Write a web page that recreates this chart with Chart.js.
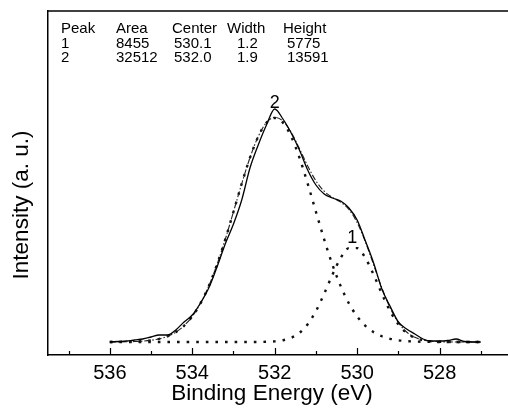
<!DOCTYPE html>
<html>
<head>
<meta charset="utf-8">
<script src="https://cdn.jsdelivr.net/npm/chart.js@4.4.0/dist/chart.umd.min.js"></script>
<style>
html, body { margin: 0; padding: 0; background: #fff; overflow: hidden; }
canvas { display: block; }
</style>
</head>
<body>
<canvas id="graficaXPS" width="508" height="414" style="width:508px;height:414px"></canvas>
<script>
// binding energy (eV), one point every 0.2 eV
var energy = [536.0, 535.8, 535.6, 535.4, 535.2, 535.0, 534.8, 534.6, 534.4, 534.2,
  534.0, 533.8, 533.6, 533.4, 533.2, 533.0, 532.8, 532.6, 532.4, 532.2,
  532.0, 531.8, 531.6, 531.4, 531.2, 531.0, 530.8, 530.6, 530.4, 530.2,
  530.0, 529.8, 529.6, 529.4, 529.2, 529.0, 528.8, 528.6, 528.4, 528.2,
  528.0, 527.8, 527.6, 527.4, 527.2, 527.0];

// measured spectrum (solid)
var measured = [789, 819, 849, 910, 971, 1092, 1213, 1213, 1517, 2002,
  2427, 3155, 4065, 5339, 6734, 7948, 9404, 11345, 12741, 13954,
  14925, 14318, 13469, 12437, 11224, 10314, 9768, 9525, 9343, 8918,
  8190, 6916, 5582, 4000, 2950, 2002, 1577, 1274, 971, 849,
  849, 880, 971, 819, 789, 789];

// fit envelope (dash-dot)
var fitSum = [792, 795, 802, 816, 842, 893, 983, 1137, 1387, 1774,
  2342, 3133, 4180, 5483, 7012, 8691, 10393, 11971, 13256, 14102,
  14419, 14193, 13506, 12522, 11469, 10566, 9936, 9564, 9276, 8828,
  8037, 6870, 5468, 4061, 2858, 1969, 1394, 1070, 906, 833,
  805, 795, 791, 790, 790, 790];

// fitted components (dotted)
var peak1 = [790, 790, 790, 790, 790, 790, 790, 790, 790, 790,
  790, 790, 790, 790, 790, 790, 790, 791, 794, 803,
  828, 894, 1044, 1342, 1866, 2665, 3714, 4871, 5886, 6485,
  6485, 5886, 4871, 3714, 2665, 1866, 1342, 1044, 894, 828,
  803, 794, 791, 790, 790, 790];
var peak2 = [792, 795, 802, 816, 842, 893, 983, 1137, 1387, 1774,
  2342, 3133, 4180, 5483, 7012, 8691, 10393, 11970, 13252, 14089,
  14381, 14089, 13252, 11970, 10393, 8691, 7012, 5483, 4180, 3133,
  2342, 1774, 1387, 1137, 983, 893, 842, 816, 802, 795,
  792, 791, 790, 790, 790, 790];

var xTicks = [536, 534, 532, 530, 528];
var xMinorTicks = [537, 535, 533, 531, 529, 527];

var xTitle = 'Binding Energy (eV)';
var yTitle = 'Intensity (a. u.)';

// fit table
var tableHeader = ['Peak', 'Area', 'Center', 'Width', 'Height'];
var peakNo = ['1', '2'];
var peakArea = ['8455', '32512'];
var peakCenter = ['530.1', '532.0'];
var peakWidth = ['1.2', '1.9'];
var peakHeight = ['5775', '13591'];

// peak number labels: [text, energy, intensity]
var peakLabels = [['2', 532.0, 14985], ['1', 530.12, 6795]];

var FONT = 'Liberation Sans, Arial, Helvetica, sans-serif';

function puntos(arr){
  return energy.map(function(e, i){ return {x: e, y: arr[i]}; });
}

var extras = {
  id: 'extras',
  afterDraw: function(chart){
    var c = chart.ctx, a = chart.chartArea;
    var xs = chart.scales.x, ys = chart.scales.y;
    c.save();
    c.beginPath();
    c.strokeStyle = '#000';
    c.lineWidth = 1.5;
    c.moveTo(a.left, a.top);
    c.lineTo(chart.width, a.top);
    c.stroke();
    // inward ticks
    c.lineWidth = 1.2;
    xTicks.forEach(function(v){
      var px = Math.round(xs.getPixelForValue(v)) + 0.5;
      c.beginPath(); c.moveTo(px, a.bottom); c.lineTo(px, a.bottom - 7); c.stroke();
    });
    xMinorTicks.forEach(function(v){
      var px = Math.round(xs.getPixelForValue(v)) + 0.5;
      c.beginPath(); c.moveTo(px, a.bottom); c.lineTo(px, a.bottom - 4); c.stroke();
    });
    c.beginPath();
    c.fillStyle = '#000';
    // axis titles
    c.font = '22.5px ' + FONT;
    c.textAlign = 'center';
    c.textBaseline = 'alphabetic';
    c.fillText(xTitle, 272, 400);
    c.save();
    c.translate(27.5, 205);
    c.rotate(-Math.PI / 2);
    c.fillText(yTitle, 0, 0);
    c.restore();
    // table
    c.font = '15px ' + FONT;
    c.textAlign = 'left';
    var hx = [61, 116, 172, 227, 283];
    var vx = [61, 116, 174, 237, 287];
    var rowY = [33.3, 47.6, 61.8];
    tableHeader.forEach(function(t, j){ c.fillText(t, hx[j], rowY[0]); });
    for (var r = 0; r < peakNo.length; r++){
      var fila = [peakNo[r], peakArea[r], peakCenter[r], peakWidth[r], peakHeight[r]];
      fila.forEach(function(t, j){ c.fillText(t, vx[j], rowY[r + 1]); });
    }
    // peak labels
    c.font = '18px ' + FONT;
    c.textAlign = 'center';
    peakLabels.forEach(function(p){
      c.fillText(p[0], xs.getPixelForValue(p[1]), ys.getPixelForValue(p[2]));
    });
    c.restore();
  }
};

var dotStyle = {borderColor: '#111', borderWidth: 2.4, borderDash: [2.6, 7]};

var grafica = new Chart(document.getElementById('graficaXPS'), {
  type: 'line',
  data: {
    datasets: [
      {label: 'measured', data: puntos(measured), borderColor: '#000', borderWidth: 1.3},
      {label: 'fit', data: puntos(fitSum), borderColor: '#222', borderWidth: 1.1, borderDash: [6, 2, 1.5, 2]},
      Object.assign({label: 'peak 1', data: puntos(peak1)}, dotStyle),
      Object.assign({label: 'peak 2', data: puntos(peak2)}, dotStyle)
    ]
  },
  options: {
    responsive: false,
    animation: false,
    devicePixelRatio: 1,
    // plot area runs past the right edge of the canvas: the reference has no right frame
    layout: {padding: {top: 11, right: -20, bottom: 0, left: 0}},
    elements: {
      point: {radius: 0},
      line: {cubicInterpolationMode: 'monotone'}
    },
    plugins: {legend: {display: false}, tooltip: {enabled: false}},
    scales: {
      x: {
        type: 'linear',
        reverse: true,
        min: 526.34,
        max: 537.5,
        grid: {display: false, drawTicks: false},
        border: {display: true, color: '#000', width: 1.5},
        ticks: {font: {size: 20, family: FONT}, color: '#000', padding: 6, maxRotation: 0},
        afterBuildTicks: function(s){ s.ticks = xTicks.map(function(v){ return {value: v}; }); },
        afterFit: function(s){ s.height = 59; }
      },
      y: {
        min: 0,
        max: 20870,
        grid: {display: false, drawTicks: false},
        border: {display: true, color: '#000', width: 1.5},
        ticks: {display: false},
        afterFit: function(s){ s.width = 48; }
      }
    }
  },
  plugins: [extras]
});
</script>
</body>
</html>
